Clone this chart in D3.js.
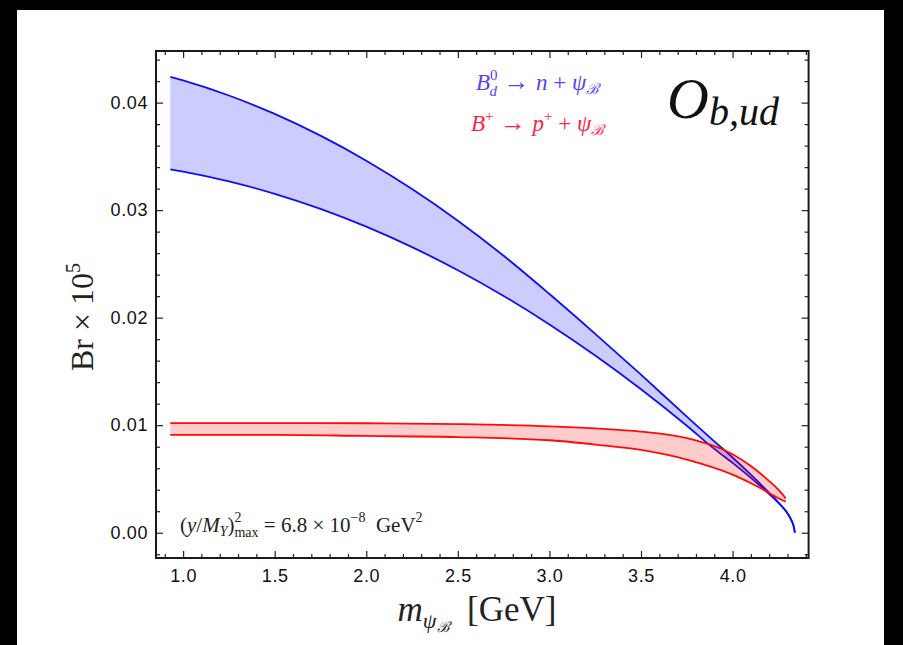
<!DOCTYPE html>
<html><head><meta charset="utf-8">
<script src="https://cdn.jsdelivr.net/npm/d3@7"></script>
<style>
body{margin:0;background:#000;}
svg{display:block}
</style>
</head><body>
<svg id="c" width="903" height="645"></svg>
<script>
// ---- data ----
const massB  = [0.93,1.0,1.25,1.5,1.75,2.0,2.25,2.5,2.75,3.0,3.25,3.5,3.75,3.9,4.0,4.1,4.2,4.25,4.3,4.32,4.335,4.34];
const blueHi = [0.0424,0.04206,0.04066,0.03895,0.03693,0.0346,0.03196,0.02902,0.02576,0.0222,0.0185,0.0147,0.0108,0.0085,0.0070,0.0054,0.0037,0.0028,0.0018,0.0012,0.0005,0];
const blueLo = [0.0338,0.03359,0.03268,0.03152,0.03012,0.02846,0.02656,0.02441,0.02202,0.01937,0.01648,0.01334,0.00995,0.0078,0.0065,0.0051,0.0036,0.0028,0.0018,0.0012,0.0005,0];
const massP  = [0.93,1.5,2.0,2.5,3.0,3.25,3.5,3.75,4.0,4.1,4.2,4.25,4.29];
const redHi  = [0.0102,0.0102,0.01018,0.0101,0.0099,0.0097,0.0094,0.0088,0.0073,0.0062,0.0048,0.0040,0.0032];
const redLo  = [0.0091,0.0091,0.0090,0.0089,0.0086,0.0082,0.0077,0.0068,0.0054,0.0046,0.0037,0.0032,0.0029];
const xTickLabels = [1.0,1.5,2.0,2.5,3.0,3.5,4.0];
const yTickLabels = [0.00,0.01,0.02,0.03,0.04];
const xMinorTicks = [0.9,1.1,1.2,1.3,1.4,1.6,1.7,1.8,1.9,2.1,2.2,2.3,2.4,2.6,2.7,2.8,2.9,3.1,3.2,3.3,3.4,3.6,3.7,3.8,3.9,4.1,4.2,4.3,4.4];
const yMinorTicks = [-0.002,0.002,0.004,0.006,0.008,0.012,0.014,0.016,0.018,0.022,0.024,0.026,0.028,0.032,0.034,0.036,0.038,0.042,0.044];

// ---- layout ----
const L=156, R=808.6, T=51, B=558;
const svg = d3.select("#c");
svg.append("rect").attr("x",17).attr("y",10).attr("width",867).attr("height",635).attr("fill","#fff");

const x = d3.scaleLinear().domain([0.852,4.415]).range([L,R]);
const y = d3.scaleLinear().domain([-0.00235,0.0448]).range([B,T]);

svg.append("clipPath").attr("id","pc").append("rect")
  .attr("x",L).attr("y",T).attr("width",R-L).attr("height",B-T);
const plot = svg.append("g").attr("clip-path","url(#pc)");

function band(ms, hi, lo, fill, stroke){
  const d = ms.map((m,i)=>({m, hi:hi[i], lo:lo[i]}));
  const area = d3.area().x(p=>x(p.m)).y0(p=>y(p.lo)).y1(p=>y(p.hi)).curve(d3.curveMonotoneX);
  plot.append("path").datum(d).attr("d",area).attr("fill",fill).attr("fill-opacity",0.2).attr("stroke","none");
  const lh = d3.line().x(p=>x(p.m)).y(p=>y(p.hi)).curve(d3.curveMonotoneX);
  const ll = d3.line().x(p=>x(p.m)).y(p=>y(p.lo)).curve(d3.curveMonotoneX);
  plot.append("path").datum(d).attr("d",lh).attr("fill","none").attr("stroke",stroke).attr("stroke-width",1.8);
  plot.append("path").datum(d).attr("d",ll).attr("fill","none").attr("stroke",stroke).attr("stroke-width",1.8);
}
band(massB, blueHi, blueLo, "#0000ff", "#1010f0");
band(massP, redHi, redLo, "#ff0000", "#ff0a0a");

// ---- axes / frame ticks ----
function styleAxis(g){ g.select(".domain").remove(); g.selectAll("line").attr("stroke","#222").attr("stroke-width",1.2); }
const tickFont = g => g.selectAll("text").attr("font-family","'Liberation Sans', Arial, sans-serif")
   .attr("font-size",18).attr("fill","#111").attr("letter-spacing","0.6px");

svg.append("g").attr("transform",`translate(0,${B})`)
  .call(d3.axisBottom(x).tickValues(xTickLabels).tickSize(-7).tickPadding(11).tickFormat(d3.format(".1f")))
  .call(styleAxis).call(tickFont);
svg.append("g").attr("transform",`translate(0,${B})`)
  .call(d3.axisBottom(x).tickValues(xMinorTicks).tickSize(-4).tickFormat("")).call(styleAxis);
svg.append("g").attr("transform",`translate(0,${T})`)
  .call(d3.axisTop(x).tickValues(xTickLabels).tickSize(-7).tickFormat("")).call(styleAxis);
svg.append("g").attr("transform",`translate(0,${T})`)
  .call(d3.axisTop(x).tickValues(xMinorTicks).tickSize(-4).tickFormat("")).call(styleAxis);

svg.append("g").attr("transform",`translate(${L},0)`)
  .call(d3.axisLeft(y).tickValues(yTickLabels).tickSize(-7).tickPadding(8).tickFormat(d3.format(".2f")))
  .call(styleAxis).call(tickFont);
svg.append("g").attr("transform",`translate(${L},0)`)
  .call(d3.axisLeft(y).tickValues(yMinorTicks).tickSize(-4).tickFormat("")).call(styleAxis);
svg.append("g").attr("transform",`translate(${R},0)`)
  .call(d3.axisRight(y).tickValues(yTickLabels).tickSize(-7).tickFormat("")).call(styleAxis);
svg.append("g").attr("transform",`translate(${R},0)`)
  .call(d3.axisRight(y).tickValues(yMinorTicks).tickSize(-4).tickFormat("")).call(styleAxis);

svg.append("rect").attr("x",L).attr("y",T).attr("width",R-L).attr("height",B-T)
  .attr("fill","none").attr("stroke","#1a1a1a").attr("stroke-width",2);

// ---- texts ----
const serif = "'Liberation Serif','Times New Roman',serif";

// y label
const yl = svg.append("text").attr("transform","translate(93,317) rotate(-90)")
  .attr("text-anchor","middle").attr("font-family",serif).attr("font-size",32).attr("fill","#222");
yl.append("tspan").text("Br × 10");
yl.append("tspan").attr("font-size",20).attr("dy",-13).text("5");

// x label
const xl = svg.append("text").attr("x",477).attr("y",621).attr("text-anchor","middle")
  .attr("font-family",serif).attr("font-size",35).attr("fill","#222");
xl.append("tspan").attr("font-style","italic").text("m");
xl.append("tspan").attr("font-style","italic").attr("font-size",22).attr("dy",7).text("ψ");
xl.append("tspan").attr("font-style","italic").attr("font-size",15).attr("dy",4).text("ℬ");
xl.append("tspan").attr("dy",-11).text("\u00a0\u00a0[GeV]");

// legend
const lg1 = svg.append("text").attr("x",476).attr("y",90).attr("font-family",serif)
  .attr("font-size",23).attr("fill","#5b3cff");
lg1.append("tspan").attr("font-style","italic").text("B");
lg1.append("tspan").attr("font-size",15).attr("dy",-10).text("0");
lg1.append("tspan").attr("font-size",15).attr("font-style","italic").attr("dx",-8).attr("dy",16).text("d");
lg1.append("tspan").attr("dy",-6).attr("font-size",26).text(" → ");
lg1.append("tspan").attr("font-style","italic").text("n");
lg1.append("tspan").text(" + ");
lg1.append("tspan").attr("font-style","italic").text("ψ");
lg1.append("tspan").attr("font-style","italic").attr("font-size",15).attr("dy",4).text("ℬ");

const lg2 = svg.append("text").attr("x",471).attr("y",131).attr("font-family",serif)
  .attr("font-size",23).attr("fill","#ff2244");
lg2.append("tspan").attr("font-style","italic").text("B");
lg2.append("tspan").attr("font-size",15).attr("dy",-10).text("+");
lg2.append("tspan").attr("dy",10).attr("font-size",26).text(" → ");
lg2.append("tspan").attr("font-style","italic").text("p");
lg2.append("tspan").attr("font-size",15).attr("dy",-10).text("+");
lg2.append("tspan").attr("dy",10).text(" + ");
lg2.append("tspan").attr("font-style","italic").text("ψ");
lg2.append("tspan").attr("font-style","italic").attr("font-size",15).attr("dy",4).text("ℬ");

// operator label
const op = svg.append("text").attr("x",667).attr("y",118).attr("font-family",serif).attr("fill","#111");
op.append("tspan").attr("font-style","italic").attr("font-size",58).text("O");
op.append("tspan").attr("font-style","italic").attr("font-size",40).attr("dy",7).text("b,ud");

// annotation
const an = svg.append("text").attr("x",180).attr("y",532).attr("font-family",serif)
  .attr("font-size",21).attr("fill","#222");
an.append("tspan").text("(");
an.append("tspan").attr("font-style","italic").text("y");
an.append("tspan").text("/");
an.append("tspan").attr("font-style","italic").text("M");
an.append("tspan").attr("font-style","italic").attr("font-size",14).attr("dy",4).text("Υ");
an.append("tspan").attr("dy",-4).text(")");
an.append("tspan").attr("font-size",14).attr("dy",-10).text("2");
an.append("tspan").attr("font-size",14).attr("dx",-7).attr("dy",15).text("max");
an.append("tspan").attr("dy",-5).text(" = 6.8 × 10");
an.append("tspan").attr("font-size",14).attr("dy",-10).text("−8");
an.append("tspan").attr("dy",10).text("\u00a0\u00a0GeV");
an.append("tspan").attr("font-size",14).attr("dy",-10).text("2");
</script>
</body></html>
